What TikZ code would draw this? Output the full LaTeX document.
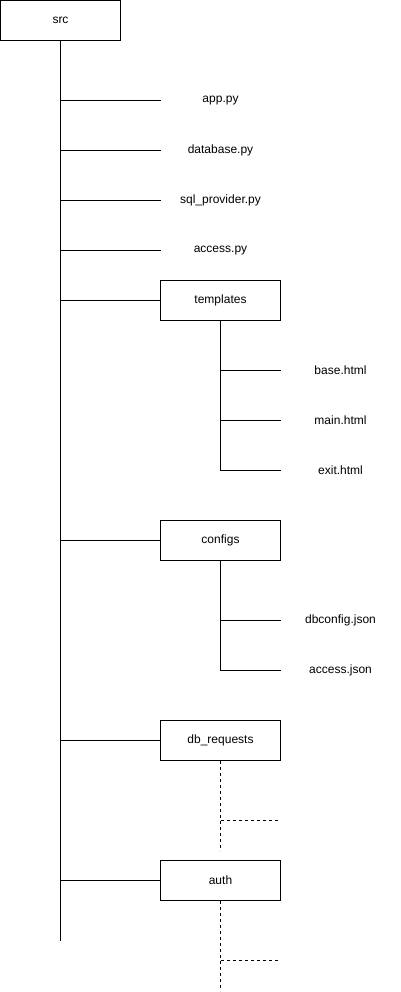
\documentclass[tikz,border=0pt]{standalone}
\usepackage{fontspec}
\setmainfont{Liberation Sans}
\usetikzlibrary{positioning}

\begin{document}
\begin{tikzpicture}[
		x=1pt, y=-1pt,
		font=\fontsize{12pt}{14pt}\selectfont,
		node distance=10pt,
		line width=1pt,
		folder/.style={
			draw,
			rectangle,
			align=center,
			inner sep=0pt,
			outer sep=0pt,
			minimum width=120pt,
			minimum height=40pt
		},
		file/.style={
			rectangle,
			align=center,
			inner sep=0pt,
			outer sep=0pt,
			minimum width=120pt,
			minimum height=40pt
		},
		branch/.style={-},
		stub/.style={-, dash pattern=on 3pt off 3pt}
		]
		\useasboundingbox (-0.5,-0.5) rectangle (400.5,991.5);
		
		% ---- Root ----
		\node[folder] (src) at (60,20) {src};
		
		% ---- Files in src ----
		\node[file] (app) at (220,100) {app.py};
		\node[file, below=10pt of app] (database) {database.py};
		\node[file, below=10pt of database] (sqlprov) {sql\_provider.py};
		\node[file, below=10pt of sqlprov] (access) {access.py};
		
		% ---- Folders in src ----
		\node[folder, below=10pt of access] (templates) {templates};
		\node[folder, below=200pt of templates] (configs) {configs};
		\node[folder, below=160pt of configs] (dbreq) {db\_requests};
		\node[folder, below=100pt of dbreq] (auth) {auth};
		
		% ---- templates ----
		\node[file, below right=30pt and 0pt of templates] (base) {base.html};
		\node[file, below=10pt of base] (mainhtml) {main.html};
		\node[file, below=10pt of mainhtml] (exit) {exit.html};
		
		% ---- configs ----
		\node[file, below right=40pt and 0pt of configs] (dbconfig) {dbconfig.json};
		\node[file, below=10pt of dbconfig] (accessjson) {access.json};
		
		% ---- Trunk ----
		\coordinate (trunkend) at (60,940);
		\draw[branch] (src.south) -- (trunkend);
		
		\draw[branch] (src.south |- app) -- (app.west);
		\draw[branch] (src.south |- database) -- (database.west);
		\draw[branch] (src.south |- sqlprov) -- (sqlprov.west);
		\draw[branch] (src.south |- access) -- (access.west);
		\draw[branch] (src.south |- templates) -- (templates.west);
		\draw[branch] (src.south |- configs) -- (configs.west);
		\draw[branch] (src.south |- dbreq) -- (dbreq.west);
		\draw[branch] (src.south |- auth) -- (auth.west);
		
		% ---- Sub trees ----
		\draw[branch] (templates.south) -- (templates.south |- exit);
		\draw[branch] (templates.south |- base) -- (base.west);
		\draw[branch] (templates.south |- mainhtml) -- (mainhtml.west);
		\draw[branch] (templates.south |- exit) -- (exit.west);
		
		\draw[branch] (configs.south) -- (configs.south |- accessjson);
		\draw[branch] (configs.south |- dbconfig) -- (dbconfig.west);
		\draw[branch] (configs.south |- accessjson) -- (accessjson.west);
		
		% ---- Unfinished folders ----
		\coordinate (dbreqend) at (220,850);
		\coordinate (dbreqstub) at (278,820);
		\draw[stub] (dbreq.south) -- (dbreqend);
		\draw[stub] (dbreq.south |- dbreqstub) -- (dbreqstub);
		
		\coordinate (authend) at (220,990);
		\coordinate (authstub) at (278,960);
		\draw[stub] (auth.south) -- (authend);
		\draw[stub] (auth.south |- authstub) -- (authstub);
		
	\end{tikzpicture}
\end{document}
